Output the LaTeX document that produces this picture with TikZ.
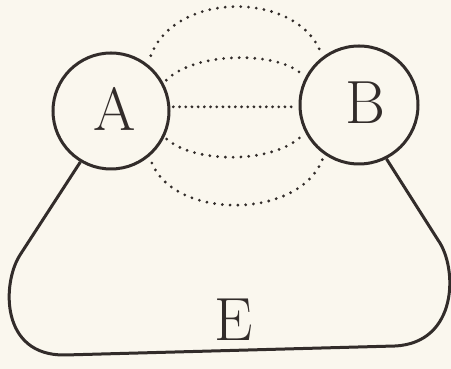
\documentclass[tikz,border=0pt]{standalone}
\usetikzlibrary{calc}
\definecolor{paper}{RGB}{250,247,238}
\definecolor{ink}{RGB}{50,44,42}
\begin{document}
\begin{tikzpicture}[x=1pt,y=1pt,
  circ/.style={circle,draw=ink,line width=3pt,minimum size=116pt,inner sep=0pt},
  letter/.style={text=ink,inner sep=0pt,font=\fontsize{61}{61}\selectfont},
  field/.style={draw=ink,line width=3.1pt,line cap=round,dash pattern=on 0pt off 7.8pt},
  outline/.style={draw=ink,line width=3pt,line join=round}]
\fill[paper] (0,0) rectangle (451,369);
\useasboundingbox (0,0) rectangle (451,369);
\node[circ] (A) at (111,258) {};
\node[circ,minimum size=118pt] (B) at (359,264) {};
\node[letter] (tA) at (114.5,260.5) {A};
\node[letter] (tB) at (365,266) {B};
\node[letter] (tE) at (234,49.5) {E};
% field lines
\draw[field,shorten <=9pt,shorten >=6pt] (A.52) .. controls (175,378) and (295,378) .. (B.127);
\draw[field,shorten <=4pt,shorten >=3pt] (A.28) .. controls (195,318) and (280,318) .. (B.153);
\draw[field,dash pattern=on 0pt off 6.2pt,shorten <=3pt,shorten >=2pt] (A.4) -- (A.4 -| B.west);
\draw[field,shorten <=3pt,shorten >=3pt] (A.-26) .. controls (195,205) and (275,205) .. (B.207);
\draw[field,shorten <=7pt,shorten >=4pt] (A.-50) .. controls (175,149) and (300,149) .. (B.235);
% outline E
\draw[outline] (A.239) -- (20,114) .. controls (2,86) and (0,13) .. (65,14)
  -- (395,23) .. controls (458,26) and (458,101) .. (438,129) -- (B.297);
\end{tikzpicture}
\end{document}
